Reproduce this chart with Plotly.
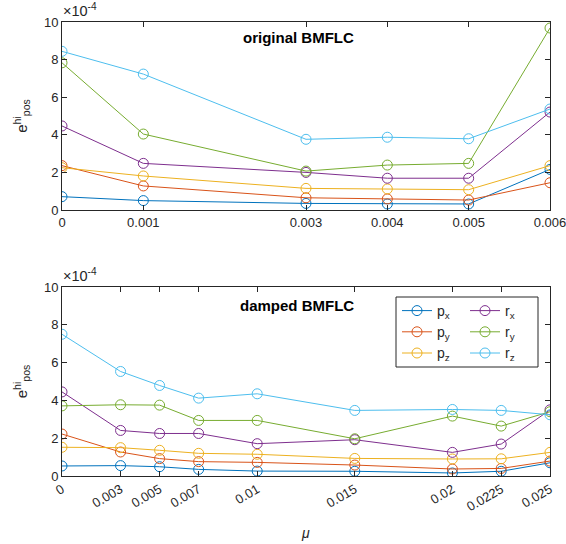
import plotly.graph_objects as go

# values are in units of 1e-4
mu_orig = [0, 0.001, 0.003, 0.004, 0.005, 0.006]
orig_px = [0.71, 0.50, 0.35, 0.32, 0.32, 2.16]
orig_py = [2.36, 1.28, 0.65, 0.59, 0.53, 1.45]
orig_pz = [2.25, 1.81, 1.15, 1.12, 1.08, 2.36]
orig_rx = [4.47, 2.48, 2.00, 1.69, 1.69, 5.21]
orig_ry = [7.83, 4.04, 2.07, 2.39, 2.48, 9.68]
orig_rz = [8.44, 7.23, 3.76, 3.87, 3.79, 5.37]

mu_damp = [0, 0.003, 0.005, 0.007, 0.01, 0.015, 0.02, 0.0225, 0.025]
damp_px = [0.53, 0.55, 0.49, 0.35, 0.26, 0.25, 0.16, 0.25, 0.70]
damp_py = [2.22, 1.27, 0.92, 0.76, 0.72, 0.58, 0.37, 0.40, 0.79]
damp_pz = [1.52, 1.50, 1.36, 1.20, 1.15, 0.93, 0.90, 0.91, 1.25]
damp_rx = [4.45, 2.41, 2.25, 2.25, 1.71, 1.92, 1.25, 1.69, 3.50]
damp_ry = [3.71, 3.77, 3.75, 2.94, 2.94, 1.97, 3.17, 2.64, 3.40]
damp_rz = [7.50, 5.53, 4.79, 4.12, 4.35, 3.47, 3.52, 3.47, 3.24]

series_names = ["p<sub>x</sub>", "p<sub>y</sub>", "p<sub>z</sub>",
                "r<sub>x</sub>", "r<sub>y</sub>", "r<sub>z</sub>"]
colors = ["#0072BD", "#D95319", "#EDB120", "#7E2F8E", "#77AC30", "#4DBEEE"]
yticks = [0, 2, 4, 6, 8, 10]

W, H = 566, 544
FONT = "Liberation Sans, Arial, sans-serif"
TXT = "#262626"

def px2x(p):
    return p / W

def px2y(p):
    return 1 - p / H

fig = go.Figure()

orig = [orig_px, orig_py, orig_pz, orig_rx, orig_ry, orig_rz]
damp = [damp_px, damp_py, damp_pz, damp_rx, damp_ry, damp_rz]

for i, (name, col, ys) in enumerate(zip(series_names, colors, orig)):
    fig.add_trace(go.Scatter(
        x=mu_orig, y=ys, mode="lines+markers", name=name,
        line=dict(color=col, width=1),
        marker=dict(symbol="circle-open", size=10, color=col, line=dict(width=1, color=col)),
        showlegend=False, xaxis="x", yaxis="y"))

for i, (name, col, ys) in enumerate(zip(series_names, colors, damp)):
    fig.add_trace(go.Scatter(
        x=mu_damp, y=ys, mode="lines+markers", name=name,
        line=dict(color=col, width=1),
        marker=dict(symbol="circle-open", size=10, color=col, line=dict(width=1, color=col)),
        showlegend=True, legend="legend" if i < 3 else "legend2",
        xaxis="x2", yaxis="y2"))

xdom = [px2x(62), px2x(550)]
axis_common = dict(
    showline=True, linecolor=TXT, linewidth=1, mirror="ticks",
    ticks="inside", ticklen=5, tickcolor=TXT, tickwidth=1,
    showgrid=False, zeroline=False, automargin=False,
    ticklabeloverflow="allow",
    tickfont=dict(family=FONT, size=13, color=TXT),
)
ytitle = dict(text="e<sup>hi</sup><sub>pos</sub>", standoff=12,
              font=dict(family=FONT, size=15, color=TXT))

fig.update_layout(
    width=W, height=H,
    margin=dict(l=0, r=0, t=0, b=0, autoexpand=False),
    plot_bgcolor="white", paper_bgcolor="white",
    font=dict(family=FONT, size=13, color=TXT),
    xaxis=dict(domain=xdom, anchor="y", range=[0, 0.006],
               tickvals=mu_orig, ticktext=[str(v) for v in mu_orig], **axis_common),
    yaxis=dict(domain=[px2y(210), px2y(22)], anchor="x", range=[0, 10],
               tickvals=yticks, title=ytitle, **axis_common),
    xaxis2=dict(domain=xdom, anchor="y2", range=[0, 0.025],
                tickvals=mu_damp, ticktext=[str(v) for v in mu_damp],
                tickangle=-30, **axis_common),
    yaxis2=dict(domain=[px2y(476), px2y(287)], anchor="x2", range=[0, 10],
                tickvals=yticks, title=ytitle, **axis_common),
    legend=dict(x=px2x(397), y=px2y(295), xanchor="left", yanchor="top",
                bgcolor="rgba(0,0,0,0)", borderwidth=0,
                font=dict(family=FONT, size=14, color=TXT),
                tracegroupgap=0, itemwidth=30),
    legend2=dict(x=px2x(465), y=px2y(295), xanchor="left", yanchor="top",
                 bgcolor="rgba(0,0,0,0)", borderwidth=0,
                 font=dict(family=FONT, size=14, color=TXT),
                 tracegroupgap=0, itemwidth=30),
    shapes=[dict(type="rect", xref="paper", yref="paper",
                 x0=px2x(396), x1=px2x(538), y0=px2y(367), y1=px2y(297),
                 line=dict(color=TXT, width=1), fillcolor="white", layer="above")],
    annotations=[
        dict(text="<b>original BMFLC</b>", x=px2x(298), y=px2y(38), xref="paper", yref="paper",
             xanchor="center", yanchor="middle",
             showarrow=False, font=dict(family=FONT, size=15, color="black")),
        dict(text="<b>damped BMFLC</b>", x=px2x(297), y=px2y(305), xref="paper", yref="paper",
             xanchor="center", yanchor="middle",
             showarrow=False, font=dict(family=FONT, size=15, color="black")),
        dict(text="×10<sup>-4</sup>", x=px2x(61), y=px2y(21), xref="paper", yref="paper",
             xanchor="left", yanchor="bottom", showarrow=False,
             font=dict(family=FONT, size=14.5, color=TXT)),
        dict(text="×10<sup>-4</sup>", x=px2x(61), y=px2y(286), xref="paper", yref="paper",
             xanchor="left", yanchor="bottom", showarrow=False,
             font=dict(family=FONT, size=14.5, color=TXT)),
        dict(text="<i>μ</i>", x=px2x(305), y=px2y(533), xref="paper", yref="paper",
             xanchor="center", yanchor="middle",
             showarrow=False, font=dict(family=FONT, size=14, color=TXT)),
    ],
)

fig.write_html("out.html",
               config={"displayModeBar": False},
               post_script="document.body.style.margin='0';document.body.style.overflow='hidden';")
